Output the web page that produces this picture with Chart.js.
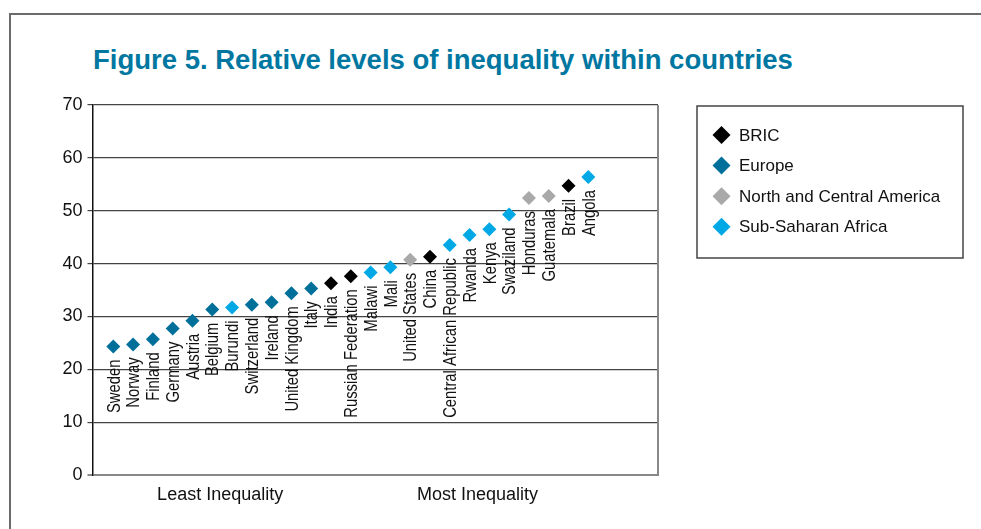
<!DOCTYPE html>
<html>
<head>
<meta charset="utf-8">
<script src="https://cdn.jsdelivr.net/npm/chart.js@4/dist/chart.umd.min.js"></script>
<style>
  body { margin: 0; background: #fff; }
  #frame { position: absolute; left: 9px; top: 13px; width: 1000px; height: 600px;
           border-left: 2px solid #6b6b6b; border-top: 2px solid #6b6b6b; }
  #title { position: absolute; left: 93px; top: 46px; font: bold 27.5px "Liberation Sans", Arial, sans-serif;
           color: #0077a1; line-height: 27px; white-space: nowrap; }
  #myChart { position: absolute; left: 0; top: 0; }
</style>
</head>
<body>
<div id="frame"></div>
<div id="title">Figure 5. Relative levels of inequality within countries</div>
<canvas id="myChart" width="981" height="529"></canvas>
<script>
// countries sorted from least to most inequality
const countries = ['Sweden', 'Norway', 'Finland', 'Germany', 'Austria', 'Belgium', 'Burundi',
  'Switzerland', 'Ireland', 'United Kingdom', 'Italy', 'India', 'Russian Federation', 'Malawi',
  'Mali', 'United States', 'China', 'Central African Republic', 'Rwanda', 'Kenya', 'Swaziland',
  'Honduras', 'Guatemala', 'Brazil', 'Angola'];
const values = [24.3, 24.7, 25.7, 27.7, 29.2, 31.3, 31.7, 32.2, 32.7, 34.4, 35.3, 36.3, 37.6,
  38.3, 39.3, 40.7, 41.3, 43.5, 45.4, 46.5, 49.3, 52.4, 52.8, 54.7, 56.4];
const groups = ['Europe', 'Europe', 'Europe', 'Europe', 'Europe', 'Europe', 'Sub-Saharan Africa',
  'Europe', 'Europe', 'Europe', 'Europe', 'BRIC', 'BRIC', 'Sub-Saharan Africa',
  'Sub-Saharan Africa', 'North and Central America', 'BRIC', 'Sub-Saharan Africa',
  'Sub-Saharan Africa', 'Sub-Saharan Africa', 'Sub-Saharan Africa', 'North and Central America',
  'North and Central America', 'BRIC', 'Sub-Saharan Africa'];
const groupNames = ['BRIC', 'Europe', 'North and Central America', 'Sub-Saharan Africa'];
const groupColors = ['#000000', '#00709a', '#a9a9a9', '#00a9e6'];
const yTicks = [0, 10, 20, 30, 40, 50, 60, 70];
const xTickLabels = ['Least Inequality', 'Most Inequality'];
const xTickPos = [6.4, 19.4];

const datasets = groupNames.map((g, gi) => ({
  label: g,
  data: countries.map((c, i) => ({ x: i + 1, y: values[i], name: c })).filter((p, i) => groups[i] === g),
  pointStyle: 'rectRot',
  pointRadius: 7,
  pointHoverRadius: 7,
  borderWidth: 0,
  backgroundColor: groupColors[gi],
  borderColor: groupColors[gi]
}));

// country names written upwards under each point, plus right border and the legend box
const extras = {
  id: 'extras',
  afterDatasetsDraw(chart) {
    const ctx = chart.ctx;
    const xs = chart.scales.x, ys = chart.scales.y;
    const area = chart.chartArea;
    ctx.save();
    ctx.strokeStyle = '#888';
    ctx.lineWidth = 2;
    ctx.beginPath();
    ctx.moveTo(area.right, area.top);
    ctx.lineTo(area.right, area.bottom + 1);
    ctx.stroke();

    ctx.fillStyle = '#111';
    ctx.font = '19px "Liberation Sans", Arial, sans-serif';
    ctx.textAlign = 'right';
    ctx.textBaseline = 'middle';
    countries.forEach((c, i) => {
      const px = xs.getPixelForValue(i + 1);
      const py = ys.getPixelForValue(values[i]);
      ctx.save();
      ctx.translate(px + 1, py + 13);
      ctx.rotate(-Math.PI / 2);
      ctx.scale(0.78, 1);
      ctx.fillText(c, 0, 0);
      ctx.restore();
    });

    // legend
    ctx.strokeStyle = '#444';
    ctx.lineWidth = 1.5;
    ctx.strokeRect(697, 106, 266, 152);
    ctx.font = '17px "Liberation Sans", Arial, sans-serif';
    ctx.textAlign = 'left';
    chart.data.datasets.forEach((d, i) => {
      const cy = 135 + i * 30.6;
      const cx = 721.5;
      const r = 9;
      ctx.fillStyle = d.backgroundColor;
      ctx.beginPath();
      ctx.moveTo(cx - r, cy);
      ctx.lineTo(cx, cy - r);
      ctx.lineTo(cx + r, cy);
      ctx.lineTo(cx, cy + r);
      ctx.closePath();
      ctx.fill();
      ctx.fillStyle = '#111';
      ctx.fillText(d.label, 739, cy + 1);
    });
    ctx.restore();
  }
};

const ctx = document.getElementById('myChart').getContext('2d');
const myChart = new Chart(ctx, {
  type: 'scatter',
  data: { datasets: datasets },
  options: {
    responsive: false,
    animation: false,
    layout: { padding: { left: 40, top: 105, right: 323, bottom: 24 } },
    plugins: { legend: { display: false }, tooltip: { enabled: false } },
    scales: {
      x: {
        type: 'linear',
        min: -0.05,
        max: 28.52,
        grid: { display: false, drawTicks: false },
        border: { display: false },
        afterBuildTicks: axis => { axis.ticks = xTickPos.map(v => ({ value: v })); },
        afterFit: axis => { axis.height = 30; },
        ticks: {
          autoSkip: false,
          maxRotation: 0,
          padding: 9,
          color: '#111',
          font: { family: '"Liberation Sans", Arial, sans-serif', size: 18 },
          callback: (v, i) => xTickLabels[i]
        }
      },
      y: {
        min: 0,
        max: 70,
        afterBuildTicks: axis => { axis.ticks = yTicks.map(v => ({ value: v })); },
        afterFit: axis => { axis.width = 52.5; },
        grid: {
          color: c => c.tick && c.tick.value === 0 ? '#888' : '#444',
          lineWidth: c => c.tick && c.tick.value === 0 ? 2 : 1.2,
          tickLength: 5
        },
        border: { color: '#111', width: 1.5 },
        ticks: {
          padding: 5,
          color: '#111',
          font: { family: '"Liberation Sans", Arial, sans-serif', size: 18 }
        }
      }
    }
  },
  plugins: [extras]
});
</script>
</body>
</html>
